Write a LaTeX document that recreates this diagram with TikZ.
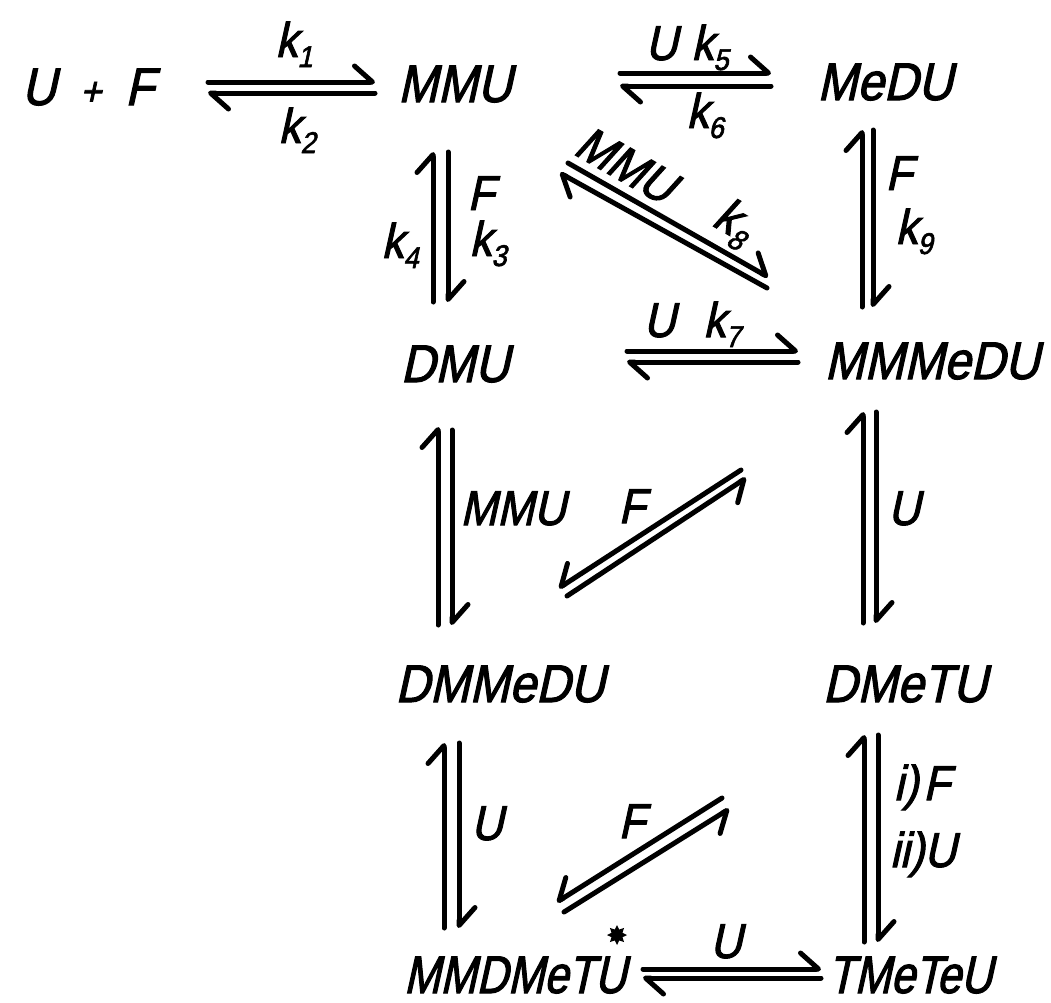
\documentclass[tikz,border=0pt]{standalone}
\usepackage{fontspec}
\usetikzlibrary{arrows.meta,shapes.geometric}
\newfontfamily\dfont[FakeSlant=0.22,FakeStretch=0.9,FakeBold=2]{Liberation Sans}
\newfontfamily\dfontn[FakeSlant=0.22,FakeStretch=0.82,FakeBold=2]{Liberation Sans}
\newcommand\kk[1]{k\raisebox{-10pt}{\fontsize{30}{30}\selectfont #1}}
\begin{document}
\begin{tikzpicture}[x=1pt,y=1pt,
  chem/.style={font={\dfont\fontsize{53}{53}\selectfont}, inner sep=0pt, anchor=base},
  chemn/.style={font={\dfontn\fontsize{53}{53}\selectfont}, inner sep=0pt, anchor=base},
  lab/.style={font={\dfont\fontsize{49}{49}\selectfont}, inner sep=0pt, anchor=base},
  hl/.style={line width=5pt, line cap=round, -{Straight Barb[harpoon,length=18pt,width=32pt,round]}},
  hr/.style={line width=5pt, line cap=round, -{Straight Barb[harpoon,swap,length=18pt,width=32pt,round]}},
  ast/.style={star, star points=8, star point ratio=1.7, fill, inner sep=0pt, minimum size=20pt}
]
\fill[white] (0,0) rectangle (1051,-1002);
\useasboundingbox (0,0) rectangle (1051,-1002);

% species
\node[chem] (uf) at (88,-105) {U\hspace{24pt}{\fontsize{40}{40}\selectfont +}\hspace{24pt}F};
\node[chem] (mmu) at (455,-102) {MMU};
\node[chem] (medu) at (885,-100) {MeDU};
\node[chem] (dmu) at (455,-382) {DMU};
\node[chem] (mmmedu) at (932,-379) {MMMeDU};
\node[chem] (dmmedu) at (500,-702) {DMMeDU};
\node[chem] (dmetu) at (905,-702) {DMeTU};
\node[chemn] (mmdmetu) at (515,-993) {MMDMeTU};
\node[chemn] (tmeteu) at (910,-993) {TMeTeU};
\node[ast] (star) at (617,-935) {};

% labels
\node[lab] (k1) at (294,-57) {\kk{1}};
\node[lab] (k2) at (297,-143) {\kk{2}};
\node[lab] (uk5) at (687,-60) {U\hspace{14pt}\kk{5}};
\node[lab] (k6) at (705,-128) {\kk{6}};
\node[lab] (f3) at (481,-210) {F};
\node[lab] (k3) at (488,-256) {\kk{3}};
\node[lab] (k4) at (400,-258) {\kk{4}};
\node[lab, anchor=center, rotate=-29.7] (mmu8) at (626,-165) {MMU};
\node[lab, anchor=center, rotate=-29.7] (k8) at (733,-223) {\kk{8}};
\node[lab] (f9) at (899,-190) {F};
\node[lab] (k9) at (914,-244) {\kk{9}};
\node[lab] (uk7) at (692,-337) {U\hspace{28pt}\kk{7}};
\node[lab] (lmmu) at (513,-525) {MMU};
\node[lab] (lf2) at (632,-523) {F};
\node[lab] (lu2) at (904,-525) {U};
\node[lab] (lu3) at (487,-840) {U};
\node[lab] (lf3) at (632,-838) {F};
\node[lab] (li) at (922,-800) {i)\hspace{5pt}F};
\node[lab] (lii) at (923,-867) {ii)U};
\node[lab] (lu4) at (726,-958) {U};

% A1: U+F <=> MMU
\coordinate (a1a) at (208,-82); \coordinate (a1b) at (375,-82);
\coordinate (a1c) at (375,-93); \coordinate (a1d) at (208,-93);
\draw[hl] (a1a) -- (a1b); \draw[hl] (a1c) -- (a1d);
% A2: MMU <=> MeDU
\coordinate (a2a) at (620,-73); \coordinate (a2b) at (771,-73);
\coordinate (a2c) at (771,-86); \coordinate (a2d) at (620,-86);
\draw[hl] (a2a) -- (a2b); \draw[hl] (a2c) -- (a2d);
% A3: MMU <=> DMU
\coordinate (a3a) at (433,-302); \coordinate (a3b) at (433,-152);
\coordinate (a3c) at (448,-152); \coordinate (a3d) at (448,-302);
\draw[hl] (a3a) -- (a3b); \draw[hl] (a3c) -- (a3d);
% A4: MeDU <=> MMMeDU
\coordinate (a4a) at (862,-307); \coordinate (a4b) at (862,-130);
\coordinate (a4c) at (873,-130); \coordinate (a4d) at (873,-307);
\draw[hl] (a4a) -- (a4b); \draw[hl] (a4c) -- (a4d);
% A5: MMU <=> MMMeDU (diagonal)
\coordinate (a5a) at (568,-163); \coordinate (a5b) at (768,-277);
\coordinate (a5c) at (767,-288); \coordinate (a5d) at (560,-173);
\draw[hl] (a5a) -- (a5b); \draw[hl] (a5c) -- (a5d);
% A6: DMU <=> MMMeDU
\coordinate (a6a) at (627,-351); \coordinate (a6b) at (798,-351);
\coordinate (a6c) at (798,-362); \coordinate (a6d) at (627,-362);
\draw[hl] (a6a) -- (a6b); \draw[hl] (a6c) -- (a6d);
% A7: DMU <=> DMMeDU
\coordinate (a7a) at (438,-625); \coordinate (a7b) at (438,-427);
\coordinate (a7c) at (452,-430); \coordinate (a7d) at (452,-625);
\draw[hl] (a7a) -- (a7b); \draw[hl] (a7c) -- (a7d);
% A8: MMMeDU <=> DMMeDU (diagonal)
\coordinate (a8a) at (741,-470); \coordinate (a8b) at (559,-588);
\coordinate (a8c) at (567,-596); \coordinate (a8d) at (746,-478);
\draw[hr] (a8a) -- (a8b); \draw[hr] (a8c) -- (a8d);
% A9: MMMeDU <=> DMeTU
\coordinate (a9a) at (863,-623); \coordinate (a9b) at (863,-412);
\coordinate (a9c) at (876,-412); \coordinate (a9d) at (876,-623);
\draw[hl] (a9a) -- (a9b); \draw[hl] (a9c) -- (a9d);
% A10: DMMeDU <=> MMDMeTU
\coordinate (a10a) at (444,-928); \coordinate (a10b) at (444,-743);
\coordinate (a10c) at (459,-743); \coordinate (a10d) at (459,-928);
\draw[hl] (a10a) -- (a10b); \draw[hl] (a10c) -- (a10d);
% A11: diagonal to MMDMeTU
\coordinate (a11a) at (722,-798); \coordinate (a11b) at (557,-902);
\coordinate (a11c) at (564,-912); \coordinate (a11d) at (729,-809);
\draw[hr] (a11a) -- (a11b); \draw[hr] (a11c) -- (a11d);
% A12: DMeTU <=> TMeTeU
\coordinate (a12a) at (864,-942); \coordinate (a12b) at (864,-735);
\coordinate (a12c) at (878,-735); \coordinate (a12d) at (878,-942);
\draw[hl] (a12a) -- (a12b); \draw[hl] (a12c) -- (a12d);
% A13: MMDMeTU <=> TMeTeU
\coordinate (a13a) at (643,-969); \coordinate (a13b) at (821,-969);
\coordinate (a13c) at (821,-978); \coordinate (a13d) at (643,-978);
\draw[hl] (a13a) -- (a13b); \draw[hl] (a13c) -- (a13d);
\end{tikzpicture}
\end{document}
